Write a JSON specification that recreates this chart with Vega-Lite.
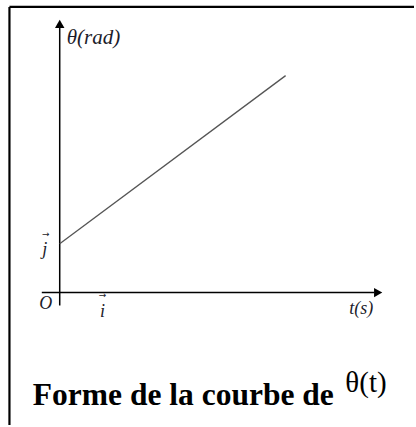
{
  "$schema": "https://vega.github.io/schema/vega-lite/v6.json",
  "width": 416,
  "height": 427,
  "autosize": {"type": "fit", "contains": "padding"},
  "padding": 0,
  "background": "white",
  "config": {"view": {"stroke": null}},
  "encoding": {
    "x": {"field": "x", "type": "quantitative", "scale": {"domain": [-6, 35.6], "nice": false, "zero": false}, "axis": null},
    "y": {"field": "y", "type": "quantitative", "scale": {"domain": [-13.3, 29.4], "nice": false, "zero": false}, "axis": null}
  },
  "layer": [
    {
      "data": {"values": [
        {"x": -5.05, "y": 28.7, "x2": 35.6, "y2": 28.7},
        {"x": -5.05, "y": 28.7, "x2": -5.05, "y2": -13.3}
      ]},
      "mark": {"type": "rule", "color": "black", "strokeWidth": 2.2},
      "encoding": {"x2": {"field": "x2"}, "y2": {"field": "y2"}}
    },
    {
      "data": {"values": [
        {"x": -1.8, "y": 0, "x2": 31.6, "y2": 0},
        {"x": 0, "y": -1.3, "x2": 0, "y2": 26.6}
      ]},
      "mark": {"type": "rule", "color": "black", "strokeWidth": 1.5},
      "encoding": {"x2": {"field": "x2"}, "y2": {"field": "y2"}}
    },
    {
      "data": {"values": [{"x": 32.0, "y": 0}]},
      "mark": {"type": "point", "shape": "triangle-right", "filled": true, "color": "black", "size": 90, "opacity": 1}
    },
    {
      "data": {"values": [{"x": 0, "y": 27.0}]},
      "mark": {"type": "point", "shape": "triangle-up", "filled": true, "color": "black", "size": 90, "opacity": 1}
    },
    {
      "data": {"values": [{"x": 0, "y": 4.9}, {"x": 22.7, "y": 21.8}]},
      "mark": {"type": "line", "color": "#555555", "strokeWidth": 1.3}
    },
    {
      "data": {"values": [{"x": 0.7, "y": 25.6, "label": "θ(rad)"}]},
      "mark": {"type": "text", "align": "left", "baseline": "middle", "font": "Liberation Serif", "fontStyle": "italic", "fontSize": 21, "color": "#1c1c2a"},
      "encoding": {"text": {"field": "label"}}
    },
    {
      "data": {"values": [
        {"x": -1.5, "y": 4.3, "label": "j"},
        {"x": -1.4, "y": -1.1, "label": "O"},
        {"x": 4.3, "y": -1.9, "label": "i"},
        {"x": 30.3, "y": -1.6, "label": "t(s)"}
      ]},
      "mark": {"type": "text", "align": "center", "baseline": "middle", "font": "Liberation Serif", "fontStyle": "italic", "fontSize": 18, "color": "#1c1c2a"},
      "encoding": {"text": {"field": "label"}}
    },
    {
      "data": {"values": [
        {"x": -1.4, "y": 5.9, "label": "→"},
        {"x": 4.3, "y": -0.25, "label": "→"}
      ]},
      "mark": {"type": "text", "align": "center", "baseline": "middle", "font": "DejaVu Sans", "fontSize": 9, "color": "#1c1c2a"},
      "encoding": {"text": {"field": "label"}}
    },
    {
      "data": {"values": [{"x": -2.7, "y": -11.3, "label": "Forme de la courbe de"}]},
      "mark": {"type": "text", "align": "left", "baseline": "alphabetic", "font": "Liberation Serif", "fontWeight": "bold", "fontSize": 31.5, "color": "black"},
      "encoding": {"text": {"field": "label"}}
    },
    {
      "data": {"values": [{"x": 28.7, "y": -10.0, "label": "θ(t)"}]},
      "mark": {"type": "text", "align": "left", "baseline": "alphabetic", "font": "Liberation Serif", "fontSize": 29, "color": "black"},
      "encoding": {"text": {"field": "label"}}
    }
  ]
}
